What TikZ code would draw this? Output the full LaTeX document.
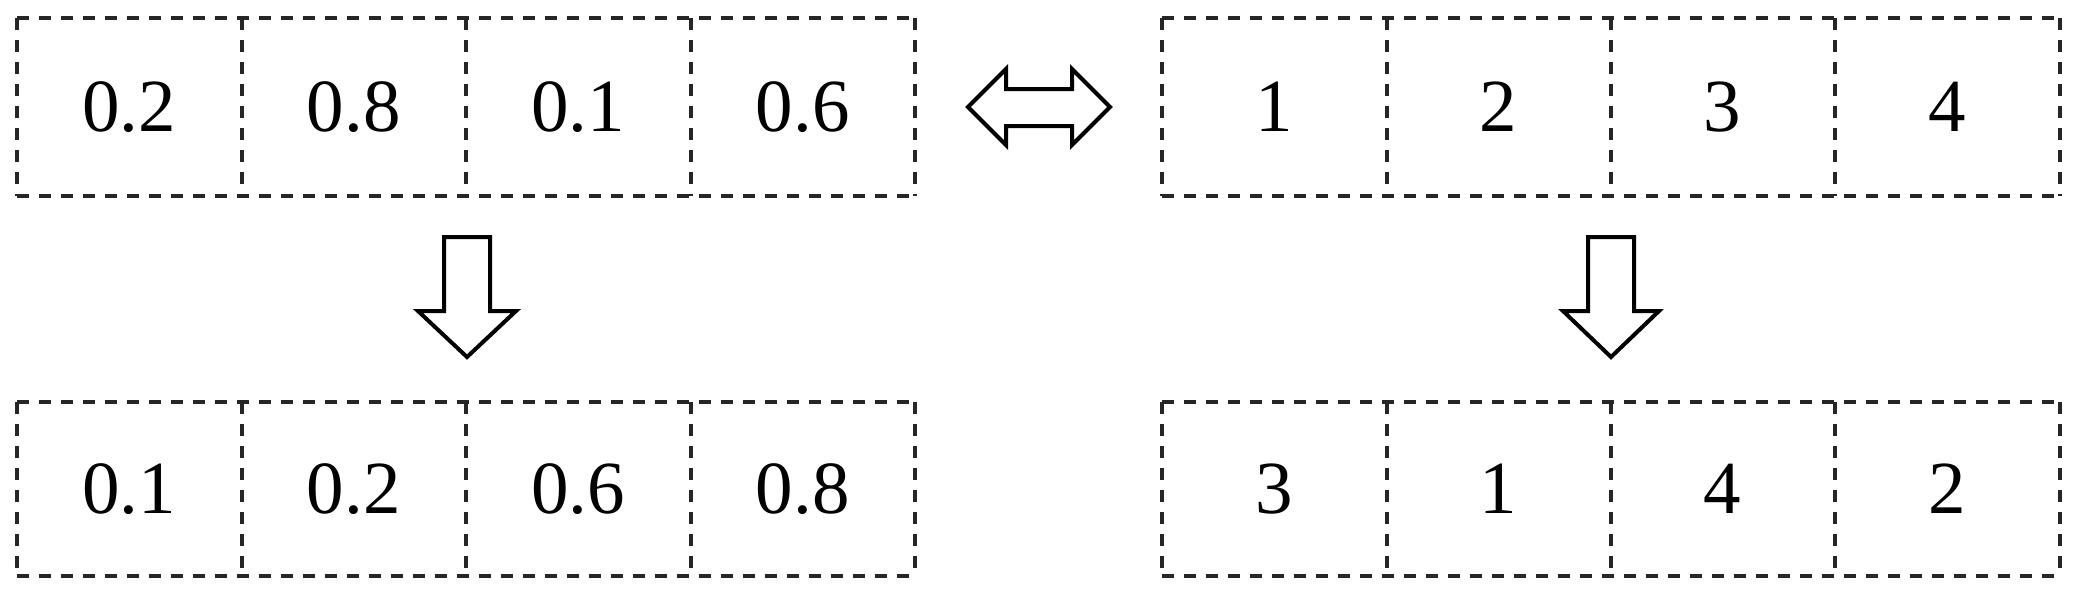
\documentclass[tikz,border=0pt]{standalone}
\usepackage{fontspec}
\setmainfont{Liberation Serif}
\begin{document}
\begin{tikzpicture}[x=0.5pt,y=-0.5pt,
  cell/.style={minimum width=112.2pt,minimum height=#1,inner sep=0pt,
    font=\fontsize{37.5}{40}\selectfont,anchor=center},
  cell/.default=89pt,
  dline/.style={draw=black!85,line width=2pt,dash pattern=on 6pt off 5pt},
  bigarrow/.style={draw=black,line width=2pt,line join=miter,fill=white}]
\useasboundingbox (0,0) rectangle (2077,600);
% top left
\node[cell] (a1) at (129.25,107) {0.2};
\node[cell] (a2) at (353.75,107) {0.8};
\node[cell] (a3) at (578.25,107) {0.1};
\node[cell] (a4) at (802.75,107) {0.6};
% top right
\node[cell] (b1) at (1274.1,107) {1};
\node[cell] (b2) at (1498.4,107) {2};
\node[cell] (b3) at (1722.6,107) {3};
\node[cell] (b4) at (1946.9,107) {4};
% bottom left
\node[cell=87pt] (c1) at (129.25,489) {0.1};
\node[cell=87pt] (c2) at (353.75,489) {0.2};
\node[cell=87pt] (c3) at (578.25,489) {0.6};
\node[cell=87pt] (c4) at (802.75,489) {0.8};
% bottom right
\node[cell=87pt] (d1) at (1274.1,489) {3};
\node[cell=87pt] (d2) at (1498.4,489) {1};
\node[cell=87pt] (d3) at (1722.6,489) {4};
\node[cell=87pt] (d4) at (1946.9,489) {2};
% dashed grids
\foreach \r in {a,b,c,d}{
  \draw[dline] (\r1.north west) -- (\r4.north east);
  \draw[dline] (\r1.south west) -- (\r4.south east);
  \draw[dline] (\r1.north west) -- (\r1.south west);
  \foreach \i in {1,2,3,4}{
    \draw[dline] (\r\i.north east) -- (\r\i.south east);
  }
}
% double arrow
\draw[bigarrow] (968,107) -- (1006,69) -- (1006,89) -- (1072,89) -- (1072,69)
  -- (1110,107) -- (1072,145) -- (1072,126) -- (1006,126) -- (1006,145) -- cycle;
% down arrow left
\draw[bigarrow] (444,237) -- (490,237) -- (490,311) -- (516,311) -- (467,357)
  -- (418,311) -- (444,311) -- cycle;
% down arrow right
\draw[bigarrow] (1588,237) -- (1634,237) -- (1634,311) -- (1659,311) -- (1611,357)
  -- (1563,311) -- (1588,311) -- cycle;
\end{tikzpicture}
\end{document}
